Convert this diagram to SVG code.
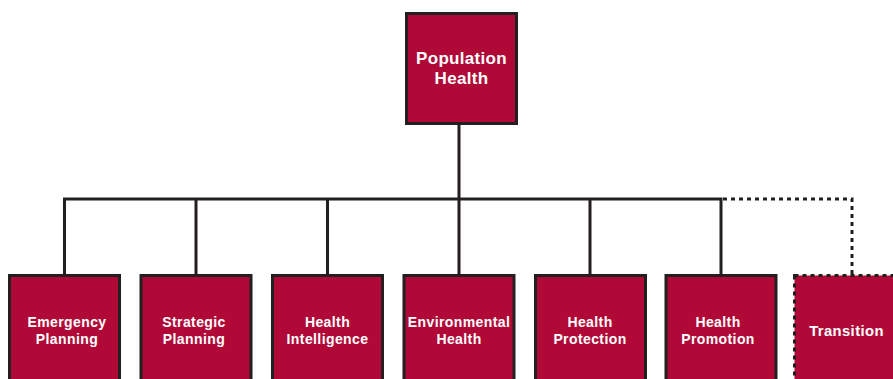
<svg xmlns="http://www.w3.org/2000/svg" width="893" height="379" viewBox="0 0 893 379">
<style>
.box{fill:#B00938;stroke:#231F20;stroke-width:3}
.dash{fill:#B00938;stroke:#231F20;stroke-width:3;stroke-dasharray:4 4}
.t{font-family:"Liberation Sans",Arial,sans-serif;font-weight:bold;fill:#fff;text-anchor:middle;font-size:14px;letter-spacing:0.4px}
.tt{font-size:17px;letter-spacing:0.3px}
.tr{font-size:14.8px}
.ln{fill:none;stroke:#231F20;stroke-width:3}
.dl{fill:none;stroke:#231F20;stroke-width:3;stroke-dasharray:4 4}
</style>
<rect width="893" height="379" fill="#fff"/>
<g id="connectors">
<path class="ln" d="M459 124V199M64.5 274V199H721V274M196 199V274M327.5 199V274M459 199V274M590 199V274"/>
<path class="dl" d="M723 199H852V274"/>
</g>
<g id="population-health">
<rect class="box" x="406.5" y="13.5" width="110" height="110"/>
<text class="t tt" x="461.5" y="64">Population</text>
<text class="t tt" x="461.5" y="84">Health</text>
</g>
<g id="emergency-planning">
<rect class="box" x="9.5" y="275.5" width="110" height="120"/>
<text class="t" x="67" y="327">Emergency</text>
<text class="t" x="67" y="344">Planning</text>
</g>
<g id="strategic-planning">
<rect class="box" x="141" y="275.5" width="110" height="120"/>
<text class="t" x="194" y="327">Strategic</text>
<text class="t" x="194" y="344">Planning</text>
</g>
<g id="health-intelligence">
<rect class="box" x="272.5" y="275.5" width="110" height="120"/>
<text class="t" x="327.5" y="327">Health</text>
<text class="t" x="327.5" y="344">Intelligence</text>
</g>
<g id="environmental-health">
<rect class="box" x="404" y="275.5" width="110" height="120"/>
<text class="t" x="459" y="327">Environmental</text>
<text class="t" x="459" y="344">Health</text>
</g>
<g id="health-protection">
<rect class="box" x="535.5" y="275.5" width="110" height="120"/>
<text class="t" x="590" y="327">Health</text>
<text class="t" x="590" y="344">Protection</text>
</g>
<g id="health-promotion">
<rect class="box" x="666" y="275.5" width="110" height="120"/>
<text class="t" x="718" y="327">Health</text>
<text class="t" x="718" y="344">Promotion</text>
</g>
<g id="transition">
<rect class="dash" x="794.5" y="275.5" width="110" height="120"/>
<text class="t tr" x="846.5" y="336">Transition</text>
</g>
</svg>
